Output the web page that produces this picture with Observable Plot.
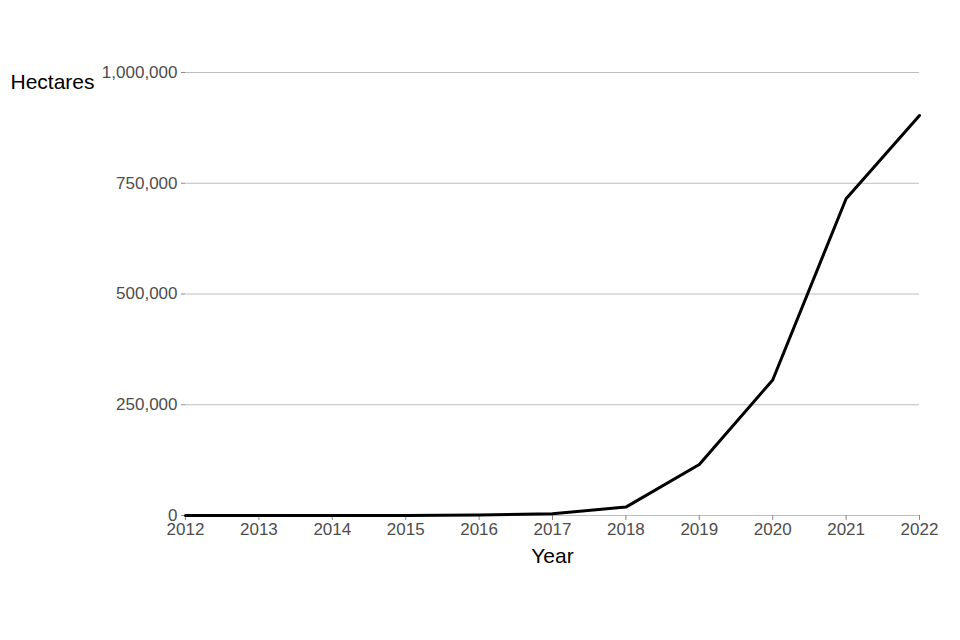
<!DOCTYPE html>
<html>
<head>
<meta charset="utf-8">
<script src="https://cdn.jsdelivr.net/npm/d3@7"></script>
<script src="https://cdn.jsdelivr.net/npm/@observablehq/plot@0.6"></script>
<style>
  html, body { margin: 0; padding: 0; background: #fff; }
  #chart svg { display: block; }
</style>
</head>
<body>
<div id="chart"></div>
<script>
const years = [2012, 2013, 2014, 2015, 2016, 2017, 2018, 2019, 2020, 2021, 2022];
const hectares = [0, 0, 0, 0, 1000, 4000, 19000, 115000, 306000, 715000, 903000];
const yTicks = [0, 250000, 500000, 750000, 1000000];
const xTicks = years;
const yLabel = "Hectares";
const xLabel = "Year";

const data = years.map((y, i) => ({ year: y, value: hectares[i] }));

const chart = Plot.plot({
  width: 960,
  height: 640,
  marginLeft: 185,
  marginRight: 41,
  marginTop: 72,
  marginBottom: 125,
  style: { fontFamily: "'Liberation Sans', Arial, sans-serif", fontSize: "17px", background: "#fff" },
  x: { domain: [2012, 2022] },
  y: { domain: [0, 1000000] },
  marks: [
    Plot.gridY(yTicks, { stroke: "#bdbdbd", strokeOpacity: 1, strokeWidth: 1 }),
    Plot.axisY(yTicks, {
      tickFormat: d3.format(","),
      tickSize: 4,
      tickPadding: 4,
      stroke: "#8a8a8a",
      color: "#4d4d4d",
      fontSize: 17,
      label: null
    }),
    Plot.axisX(xTicks, {
      tickFormat: d => String(d),
      tickSize: 5,
      tickPadding: 2,
      stroke: "#8a8a8a",
      color: "#4d4d4d",
      fontSize: 17,
      label: null
    }),
    Plot.line(data, { x: "year", y: "value", stroke: "#000", strokeWidth: 3, strokeLinejoin: "round" }),
    Plot.text([yLabel], {
      text: d => d,
      frameAnchor: "top-left",
      textAnchor: "start",
      lineAnchor: "middle",
      dx: -175,
      dy: 10,
      fontSize: 21,
      fill: "#000"
    }),
    Plot.text([xLabel], {
      text: d => d,
      frameAnchor: "bottom",
      lineAnchor: "middle",
      dy: 41,
      fontSize: 21,
      fill: "#000"
    })
  ]
});
document.getElementById("chart").appendChild(chart);
</script>
</body>
</html>
